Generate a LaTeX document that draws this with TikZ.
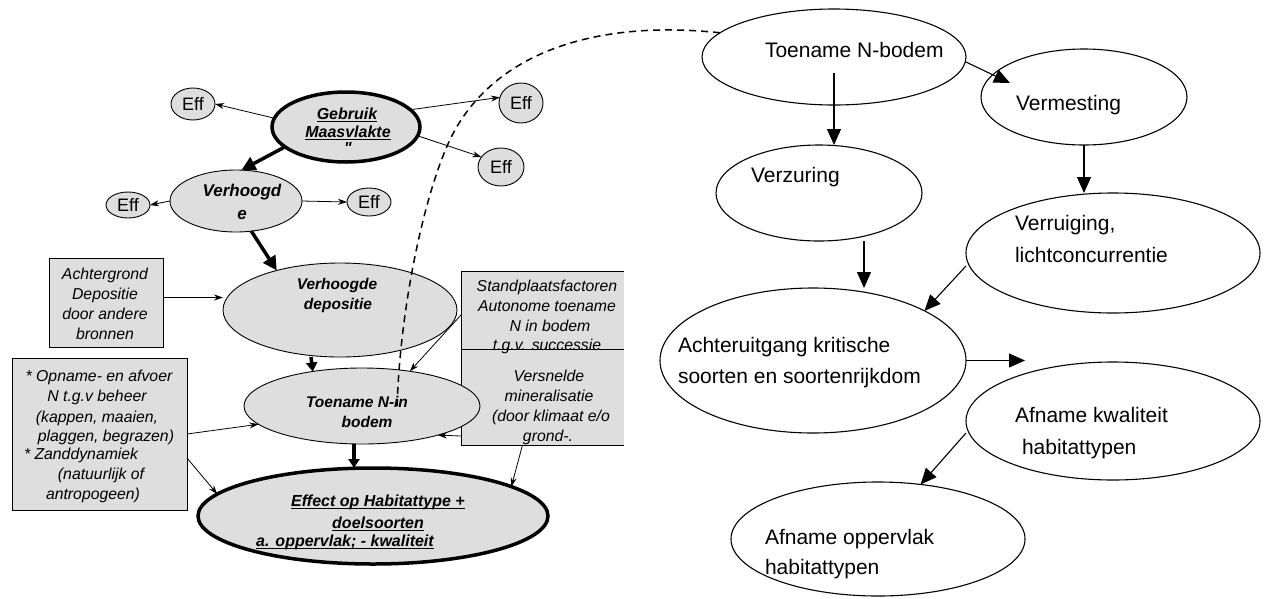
\documentclass[tikz,border=0pt]{standalone}
\usepackage{fontspec}
\setmainfont{Liberation Sans}
\newfontfamily\plainqfont{Liberation Sans}[Ligatures=TeXOff]
\newcommand{\ulx}[1]{\leavevmode\setbox0=\hbox{#1}\rlap{\rule[-2.6pt]{\wd0}{1.1pt}}\box0}
\usetikzlibrary{arrows.meta,shapes.geometric,calc}
\begin{document}
\begin{tikzpicture}[x=1pt,y=-1pt,
  every node/.style={inner sep=0pt,outer sep=0pt},
  rell/.style={draw,ellipse,line width=1.1pt},
  gell/.style={draw,ellipse,fill=black!13,line width=0.9pt},
  gthick/.style={gell,line width=3.5pt},
  effn/.style={gell,font=\fontsize{18}{20}\selectfont},
  gbox/.style={draw,rectangle,fill=black!13,line width=0.9pt},
  rtxt/.style={anchor=base west,font=\fontsize{21}{32}\selectfont},
  ltxt/.style={anchor=base,font=\fontsize{15.8}{20}\selectfont\itshape},
  btxt/.style={anchor=base,font=\fontsize{15.5}{20}\selectfont\bfseries\itshape},
  bigbtxt/.style={anchor=base,font=\fontsize{16}{20}\selectfont\bfseries\itshape},
  rarr/.style={line width=1.1pt,-{Triangle[length=16pt,width=14pt]}},
  larr/.style={line width=0.8pt,-{Stealth[length=9pt,width=6pt]}},
  tarr/.style={line width=3.5pt,-{Triangle[length=9pt,width=11pt]}},
  tarrbig/.style={line width=3.5pt,-{Triangle[length=14pt,width=14pt]}},
  dashline/.style={line width=1.5pt,dash pattern=on 7pt off 5pt}
]
\useasboundingbox (0,0) rectangle (1267,598);
\fill[white] (0,0) rectangle (1267,598);

% ---------------- right diagram ----------------
\node[rell,minimum width=264pt,minimum height=96pt] (tn) at (834,57) {};
\node[rell,minimum width=206pt,minimum height=96pt] (vm) at (1084,97) {};
\node[rell,minimum width=206pt,minimum height=96pt] (vz) at (819,193) {};
\node[rell,minimum width=294pt,minimum height=120pt] (vr) at (1113,253) {};
\node[rell,minimum width=306pt,minimum height=145pt] (ac) at (813,360.5) {};
\node[rell,minimum width=294pt,minimum height=118pt] (ak) at (1113,421) {};
\node[rell,minimum width=294pt,minimum height=114pt] (ao) at (878,539) {};

\node[rtxt] (tnt) at (765,57) {Toename N-bodem};
\node[rtxt] (vmt) at (1016,110) {Vermesting};
\node[rtxt] (vzt) at (751,182) {Verzuring};
\node[rtxt] (vrt1) at (1015,230) {Verruiging,};
\node[rtxt] (vrt2) at (1015,262) {lichtconcurrentie};
\node[rtxt] (act1) at (678,352) {Achteruitgang kritische};
\node[rtxt] (act2) at (678,383) {soorten en soortenrijkdom};
\node[rtxt] (akt1) at (1015,422) {Afname kwaliteit};
\node[rtxt] (akt2) at (1022,454) {habitattypen};
\node[rtxt] (aot1) at (765,544) {Afname oppervlak};
\node[rtxt] (aot2) at (765,574) {habitattypen};

\draw[rarr] ([yshift=-16pt]tn.center) -- (tn.center |- vz.north);
\draw[rarr] ([yshift=-5pt]tn.east) -- ([xshift=-74pt,yshift=14pt]vm.center);
\draw[rarr] (vm.south) -- (vm.south |- vr.north);
\draw[rarr] ([xshift=45pt]vz.south) -- ([xshift=45pt]vz.south |- ac.north);
\draw[rarr] ([yshift=-13pt]vr.west) -- (ac.24);
\draw[rarr] (ac.east) -- ([xshift=59pt]ac.east);
\draw[rarr] ([yshift=-12pt]ak.west) -- (ao.52);

% ---------------- left diagram ----------------
\node[gthick,minimum width=148pt,minimum height=70pt] (gm) at (346,127) {};
\node[bigbtxt] (gm1) at (347,119) {\ulx{Gebruik}};
\node[bigbtxt] (gm2) at (348,137) {\ulx{Maasvlakte}};
\node[bigbtxt,font=\fontsize{16}{20}\selectfont\bfseries\itshape\plainqfont] (gm3) at (348,153) {"};

\node[effn,minimum width=44pt,minimum height=32pt] (e1) at (193,104) {Eff};
\node[effn,minimum width=44pt,minimum height=40pt] (e2) at (521,103) {Eff};
\node[effn,minimum width=46pt,minimum height=38pt] (e3) at (501,167) {Eff};
\node[effn,minimum width=44pt,minimum height=26pt] (e4) at (128,205) {Eff};
\node[effn,minimum width=44pt,minimum height=28pt] (e5) at (369,202) {Eff};

\node[gell,minimum width=132pt,minimum height=62pt] (vh) at (236,201) {};
\node[btxt,font=\fontsize{17}{20}\selectfont\bfseries\itshape] (vh1) at (242,196) {Verhoogd};
\node[btxt,font=\fontsize{17}{20}\selectfont\bfseries\itshape] (vh2) at (242,219) {e};

\node[gell,minimum width=234pt,minimum height=94pt] (vd) at (340,310) {};
\node[btxt] (vd1) at (337,289) {Verhoogde};
\node[btxt] (vd2) at (338,309) {depositie};

\node[gbox,minimum width=114pt,minimum height=89pt] (ag) at (106,302.5) {};
\node[ltxt] (ag1) at (105,279) {Achtergrond};
\node[ltxt] (ag2) at (105,299) {Depositie};
\node[ltxt] (ag3) at (105,319) {door andere};
\node[ltxt] (ag4) at (105,339) {bronnen};

% boxes on the right of the left diagram (cut at their right side)
\node[fill=black!13,minimum width=163pt,minimum height=78pt] (sp) at (542.5,310) {};
\node[fill=black!13,minimum width=163pt,minimum height=96pt] (vs) at (542.5,397) {};
\node[ltxt] (sp1) at (547,291) {Standplaatsfactoren};
\node[ltxt] (sp2) at (547,311) {Autonome toename};
\node[ltxt] (sp3) at (550,331) {N in bodem};
\node[ltxt] (sp4) at (547,350) {t.g.v. successie};
\node[ltxt] (vs1) at (549,381) {Versnelde};
\node[ltxt] (vs2) at (549,401) {mineralisatie};
\node[ltxt] (vs3) at (551,421) {(door klimaat e/o};
\node[ltxt] (vs4) at (548,441) {grond-.};
\draw[line width=0.9pt] (sp.north east) -- (sp.north west) -- (vs.south west) -- (vs.south east);
\draw[line width=0.9pt] (sp.south west) -- (sp.south east);

\node[gell,minimum width=236pt,minimum height=76pt] (ti) at (362,406) {};
\node[btxt] (ti1) at (357,407) {Toename N-in};
\node[btxt] (ti2) at (367,427) {bodem};

\node[gbox,minimum width=175pt,minimum height=152pt] (ob) at (99.5,434) {};
\node[ltxt] (ob1) at (99,381) {* Opname- en afvoer};
\node[ltxt] (ob2) at (97,401) {N t.g.v beheer};
\node[ltxt] (ob3) at (97,422) {(kappen, maaien,};
\node[ltxt] (ob4) at (106,441) {plaggen, begrazen)};
\node[ltxt,anchor=base west] (ob5) at (24,459) {* Zanddynamiek};
\node[ltxt] (ob6) at (101,479) {(natuurlijk of};
\node[ltxt] (ob7) at (93,499) {antropogeen)};

\node[gthick,minimum width=350pt,minimum height=96pt] (ef) at (373,516) {};
\node[bigbtxt] (ef1) at (378,506) {\ulx{Effect op Habitattype +}};
\node[bigbtxt] (ef2) at (378,528) {\ulx{doelsoorten}};
\node[bigbtxt] (ef3) at (345,546) {\ulx{a. oppervlak; - kwaliteit}};

% left connectors
\draw[larr] (gm.173) -- (e1.east);
\draw[larr] (gm.15) -- (e2.165);
\draw[larr] (gm.-7) -- (e3.153);
\draw[tarrbig] (gm.198) -- (vh.80);
\draw[larr] (vh.west) -- (e4.east);
\draw[larr] (vh.east) -- (e5.west);
\draw[tarrbig] (vh.-63) -- (vd.148);
\draw[larr] ([yshift=5pt]ag.east) -- ([yshift=5pt]ag.east -| vd.west);
\draw[tarr] ([xshift=-29pt]vd.south) -- (ti.145);
\draw[tarr] ([xshift=-8pt]ti.south) -- ([xshift=-8pt]ti.south |- ef.north);
\draw[larr] ([yshift=-5pt]sp.west) -- (ti.36);
\draw[larr] ([yshift=-39pt]vs.west) -- (ti.-21);
\draw[larr] ([xshift=-20pt]vs.south) -- (ef.12);
\draw[larr] (ob.east) -- (ti.190);
\draw[larr] ([yshift=-24pt]ob.east) -- (ef.172);

% dashed link
\coordinate (dmid) at (455,130);
\coordinate (dend) at (397,409);
\draw[dashline] (tn.168) .. controls (600,20) and (500,50) .. (dmid)
  .. controls (428,178) and (400,300) .. (dend);
\end{tikzpicture}
\end{document}
